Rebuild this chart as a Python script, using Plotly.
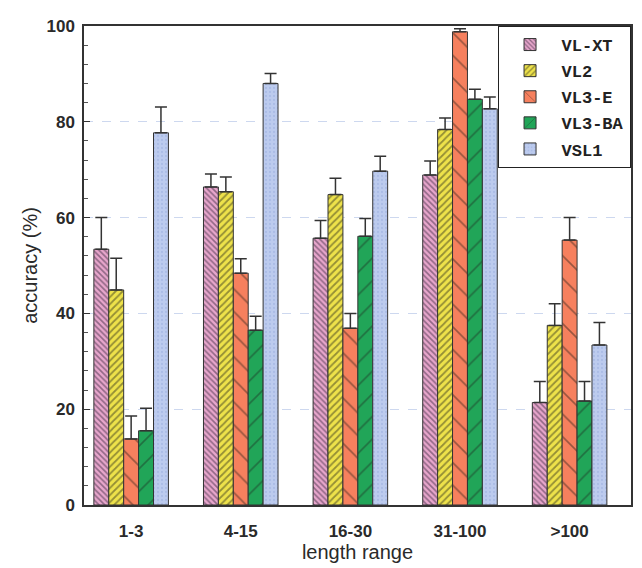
import plotly.graph_objects as go

categories = ["1-3", "4-15", "16-30", "31-100", ">100"]
series_names = ["VL-XT", "VL2", "VL3-E", "VL3-BA", "VSL1"]

vl_xt = [53.4, 66.4, 55.7, 68.9, 21.4]
vl_xt_err = [6.6, 2.7, 3.7, 2.9, 4.4]
vl2 = [44.9, 65.4, 64.8, 78.4, 37.5]
vl2_err = [6.6, 3.1, 3.4, 2.4, 4.5]
vl3_e = [13.8, 48.4, 36.9, 98.8, 55.3]
vl3_e_err = [4.8, 3.0, 3.1, 0.6, 4.7]
vl3_ba = [15.5, 36.5, 56.1, 84.7, 21.7]
vl3_ba_err = [4.7, 2.9, 3.7, 2.1, 4.1]
vsl1 = [77.7, 88.0, 69.7, 82.7, 33.4]
vsl1_err = [5.4, 2.1, 3.1, 2.5, 4.7]

y_ticks = [0, 20, 40, 60, 80, 100]

values = [vl_xt, vl2, vl3_e, vl3_ba, vsl1]
errors = [vl_xt_err, vl2_err, vl3_e_err, vl3_ba_err, vsl1_err]
colors = ["#e8a6cc", "#eee24a", "#f6805e", "#21a558", "#bccbee"]
patterns = [
    dict(shape="\\", size=4, solidity=0.4, fgcolor="#3a2a40"),
    dict(shape="/", size=5, solidity=0.35, fgcolor="#3a3a20"),
    dict(shape="\\", size=16, solidity=0.1, fgcolor="#3a2a20"),
    dict(shape="/", size=16, solidity=0.1, fgcolor="#1f3a28"),
    dict(shape=".", size=4, solidity=0.25, fgcolor="#9aaede"),
]

fig = go.Figure()
for name, v, e, c, p in zip(series_names, values, errors, colors, patterns):
    fig.add_trace(go.Bar(
        name=name, x=categories, y=v, legendgroup=name,
        marker=dict(color=c, line=dict(color="#333333", width=1),
                    pattern=dict(fillmode="overlay", **p)),
        error_y=dict(type="data", array=e, arrayminus=[0] * len(e), symmetric=False,
                     color="#333333", thickness=1.5, width=6),
    ))

fig.update_layout(
    width=634, height=560,
    margin=dict(l=76, r=9, t=14, b=62),
    paper_bgcolor="white", plot_bgcolor="white",
    barmode="group", bargap=0.32, bargroupgap=0.0,
    font=dict(family="Liberation Sans, Arial, sans-serif", color="#2a2a2a"),
    showlegend=True,
    legend=dict(
        x=0.756, y=1, xanchor="left", yanchor="top",
        bgcolor="white", bordercolor="#222222", borderwidth=1,
        font=dict(family="Liberation Mono, Courier New, monospace", size=17,
                  color="#222222", weight="bold"),
        itemwidth=53, tracegroupgap=1,
    ),
)

fig.update_xaxes(
    range=[-0.43, 4.56], showline=True, linecolor="#333333", linewidth=1.5,
    mirror=True, ticks="", showgrid=False, ticklabelstandoff=10,
    tickfont=dict(size=17, weight="bold", color="#2a2a2a"),
    title=dict(text="length range", font=dict(size=20, color="#2a2a2a"), standoff=4),
)
fig.update_yaxes(
    range=[0, 100], tickvals=y_ticks, showline=True, linecolor="#333333", linewidth=1.5,
    mirror=True, ticks="inside", ticklen=6, tickcolor="#333333", ticklabelstandoff=4,
    minor=dict(ticks="inside", ticklen=4, dtick=4, tickcolor="#555555", showgrid=False),
    showgrid=True, gridcolor="#cdd8ef", griddash="dash", gridwidth=1,
    zeroline=False,
    tickfont=dict(size=17, weight="bold", color="#2a2a2a"),
    title=dict(text="accuracy (%)", font=dict(size=20, color="#2a2a2a"), standoff=3),
)

fig.write_html("out.html")
